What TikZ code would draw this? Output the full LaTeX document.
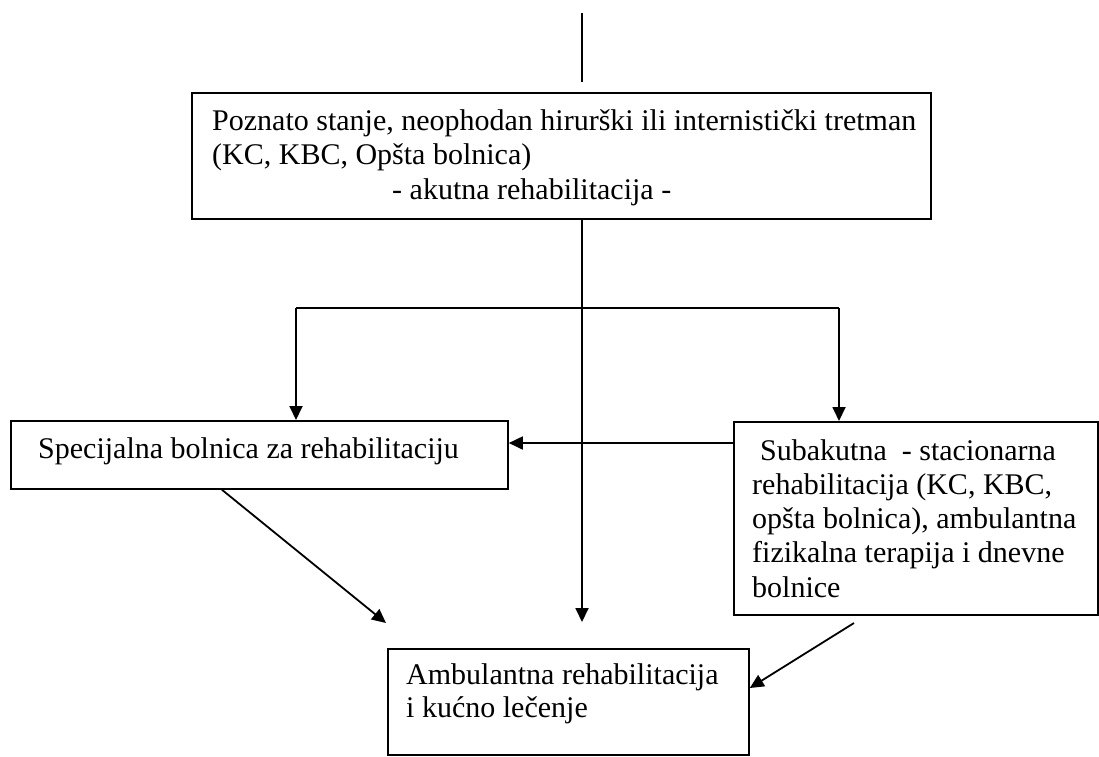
\documentclass[tikz,border=0pt]{standalone}
\usepackage{fontspec}
\setmainfont{Liberation Serif}
\usetikzlibrary{arrows.meta}
\begin{document}
\begin{tikzpicture}[x=1pt,y=-1pt,
  box/.style={draw=black, line width=1.8pt, inner sep=0pt, anchor=north west},
  txt/.style={anchor=base west, inner sep=0pt, font=\fontsize{30}{34.5}\selectfont},
  conn/.style={line width=1.8pt},
  arr/.style={conn, -{Triangle[length=14pt,width=13pt]}}]
\useasboundingbox (0,0) rectangle (1099,756);
\fill[white] (0,0) rectangle (1099,756);
% boxes
\node[box, minimum width=739pt, minimum height=126pt] (topbox) at (191,92) {};
\node[box, minimum width=497pt, minimum height=68pt] (leftbox) at (10,420) {};
\node[box, minimum width=364pt, minimum height=193pt] (rightbox) at (733,421) {};
\node[box, minimum width=361pt, minimum height=106pt] (bottombox) at (387,648) {};
% texts
\node[txt] (t1a) at (212,130) {Poznato stanje, neophodan hirurški ili internistički tretman};
\node[txt] (t1b) at (212,164.5) {(KC, KBC, Opšta bolnica)};
\node[txt] (t1c) at (392,199) {- akutna rehabilitacija -};
\node[txt] (t2) at (38,458) {Specijalna bolnica za rehabilitaciju};
\node[txt] (t3a) at (760,460) {Subakutna\ \ - stacionarna};
\node[txt] (t3b) at (752,494) {rehabilitacija (KC, KBC,};
\node[txt] (t3c) at (752,528) {opšta bolnica), ambulantna};
\node[txt] (t3d) at (752,562) {fizikalna terapija i dnevne};
\node[txt] (t3e) at (752,597) {bolnice};
\node[txt] (t4a) at (406,684) {Ambulantna rehabilitacija};
\node[txt] (t4b) at (406,717) {i kućno lečenje};
% coordinates
\coordinate (top0) at (582,13);
\coordinate (top1) at (582,82);
\coordinate (cend) at (582,622);
\coordinate (hl) at (296,308);
\coordinate (hr) at (839,308);
\coordinate (hy) at (0,443);
\coordinate (ldend) at (386,623);
\coordinate (rdstart) at (854,623);
\coordinate (rdy) at (0,688);
% connectors
\draw[conn] (top0) -- (top1);
\draw[arr] (cend |- topbox.south) -- (cend);
\draw[conn] (hl) -- (hr);
\draw[arr] (hl) -- (hl |- leftbox.north);
\draw[arr] (hr) -- (hr |- rightbox.north);
\draw[arr] (rightbox.west |- hy) -- (leftbox.east |- hy);
\draw[arr] ([xshift=212pt]leftbox.south west) -- (ldend);
\draw[arr] (rdstart) -- (bottombox.east |- rdy);
\end{tikzpicture}
\end{document}
